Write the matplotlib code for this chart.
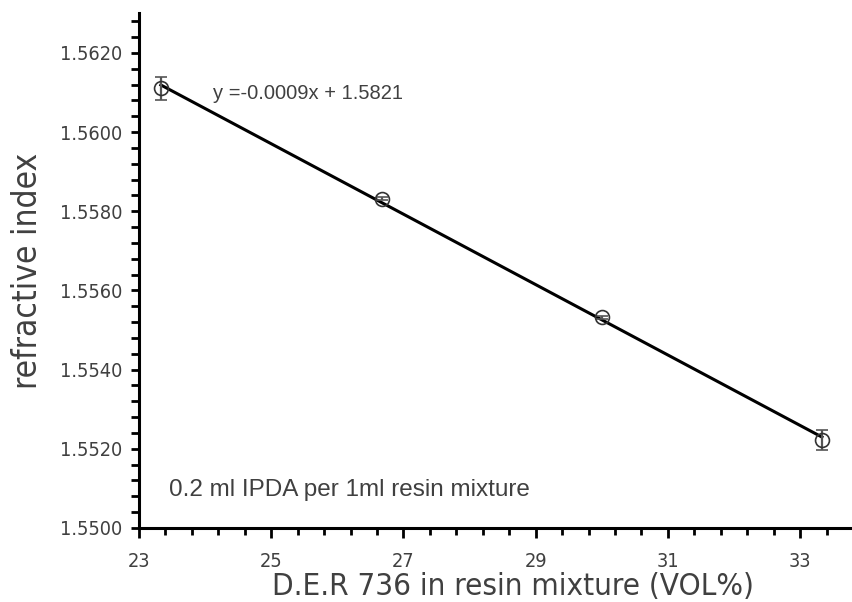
import numpy as np
import matplotlib.pyplot as plt
from matplotlib.ticker import FixedLocator, FormatStrFormatter

# data
vol_pct = [23.33, 26.67, 30.00, 33.33]
ref_index = [1.5611, 1.55832, 1.55532, 1.55222]
ref_err = [0.00028, 0.00003, 0.00003, 0.00026]

x_major = [23, 25, 27, 29, 31, 33]
eq_text = 'y =-0.0009x + 1.5821'
note_text = '0.2 ml IPDA per 1ml resin mixture'

txt = '#404040'

fig = plt.figure(figsize=(8.53, 6.02), dpi=100)
ax = fig.add_axes([0.163, 0.123, 0.837, 0.855])

# linear trendline
k, b = np.polyfit(vol_pct, ref_index, 1)
xl = np.array([vol_pct[0], vol_pct[-1]])
ax.plot(xl, k * xl + b, color='black', lw=2.2, zorder=2)

ax.errorbar(vol_pct, ref_index, yerr=ref_err, fmt='o', ms=10, mfc='none',
            mec='#333333', mew=1.2, ecolor='#555555', elinewidth=1.6,
            capsize=4, capthick=1.6, zorder=3)

ax.set_xlim(23, 33.8)
ax.set_ylim(1.5500, 1.5630)
ax.xaxis.set_major_locator(FixedLocator(x_major))
ax.xaxis.set_minor_locator(FixedLocator(np.arange(23, 33.81, 0.4)))
ax.yaxis.set_major_locator(FixedLocator(np.arange(1.5500, 1.56301, 0.002)))
ax.yaxis.set_minor_locator(FixedLocator(np.arange(1.5500, 1.56301, 0.0004)))
ax.yaxis.set_major_formatter(FormatStrFormatter('%.4f'))
ax.xaxis.set_major_formatter(FormatStrFormatter('%d'))

for s in ['top', 'right']:
    ax.spines[s].set_visible(False)
for s in ['left', 'bottom']:
    ax.spines[s].set_linewidth(2.2)
    ax.spines[s].set_color('black')

ax.tick_params(which='both', direction='out', width=2, color='black')
ax.tick_params(axis='x', which='major', length=7, pad=10)
ax.tick_params(axis='x', which='minor', length=5)
ax.tick_params(axis='y', which='both', length=6, pad=6)
for lab in ax.get_xticklabels() + ax.get_yticklabels():
    lab.set_family('DejaVu Sans')
    lab.set_stretch('condensed')
    lab.set_fontsize(14.3)
    lab.set_color(txt)

ax.set_xlabel('D.E.R 736 in resin mixture (VOL%)', family='DejaVu Sans',
              stretch='condensed', fontsize=22.5, color=txt)
ax.xaxis.set_label_coords(0.524, -0.085)
ax.set_ylabel('refractive index', family='DejaVu Sans', stretch='condensed',
              fontsize=24, color=txt)
ax.yaxis.set_label_coords(-0.133, 0.5)

ax.text(24.12, 1.56097, eq_text, fontsize=14.5, color=txt, va='center',
        family=['Liberation Sans', 'DejaVu Sans'])
ax.text(23.45, 1.55095, note_text, fontsize=17.5, color=txt, va='center',
        family=['Liberation Sans', 'DejaVu Sans'])

fig.savefig('out.png', dpi=100)
